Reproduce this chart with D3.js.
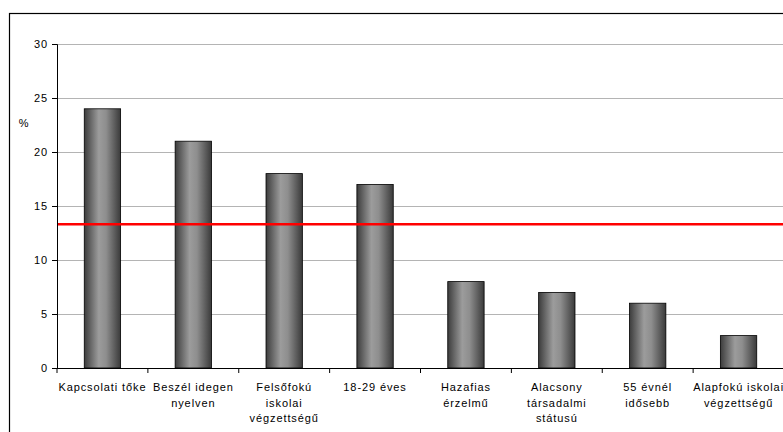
<!DOCTYPE html>
<html>
<head>
<meta charset="utf-8">
<script src="https://cdn.jsdelivr.net/npm/d3@7"></script>
<style>
  body { margin: 0; background: #fff; }
  text { font-family: "Liberation Sans", Arial, sans-serif; fill: #000; letter-spacing: 0.9px; }
</style>
</head>
<body>
<div id="chart"></div>
<script>
// data
var categories = [
  ['Kapcsolati tőke'],
  ['Beszél idegen', 'nyelven'],
  ['Felsőfokú', 'iskolai', 'végzettségű'],
  ['18-29 éves'],
  ['Hazafias', 'érzelmű'],
  ['Alacsony', 'társadalmi', 'státusú'],
  ['55 évnél', 'idősebb'],
  ['Alapfokú iskolai', 'végzettségű']
];
var values = [24, 21, 18, 17, 8, 7, 6, 3];
var average = [13.3];
var yTicks = [0, 5, 10, 15, 20, 25, 30];

var W = 783, H = 432;
var margin = {top: 44, right: -1, bottom: 64, left: 57};
var width = W - margin.left - margin.right,
    height = H - margin.top - margin.bottom;

var svg = d3.select('#chart').append('svg')
    .attr('width', W)
    .attr('height', H);

// chart frame (right and bottom edges run off the picture)
svg.append('rect')
    .attr('x', 9.5).attr('y', 13.5)
    .attr('width', W + 10).attr('height', H + 10)
    .attr('fill', 'none').attr('stroke', '#000').attr('stroke-width', 1.2);

var defs = svg.append('defs');
var grad = defs.append('linearGradient')
    .attr('id', 'barGrad')
    .attr('x1', '0%').attr('x2', '100%').attr('y1', '0%').attr('y2', '0%');
grad.append('stop').attr('offset', '0%').attr('stop-color', '#3c3c3c');
grad.append('stop').attr('offset', '40%').attr('stop-color', '#9c9c9c');
grad.append('stop').attr('offset', '60%').attr('stop-color', '#8e8e8e');
grad.append('stop').attr('offset', '100%').attr('stop-color', '#3a3a3a');

var g = svg.append('g')
    .attr('transform', 'translate(' + margin.left + ',' + margin.top + ')');

var x = d3.scaleBand()
    .domain(d3.range(categories.length))
    .range([0, width]);
var y = d3.scaleLinear()
    .domain([0, 30])
    .range([height, 0]);

// gridlines
g.selectAll('.grid')
    .data(yTicks.filter(function(d){ return d > 0; }))
    .enter().append('line')
    .attr('x1', 0).attr('x2', width)
    .attr('y1', function(d){ return y(d) + 0.5; })
    .attr('y2', function(d){ return y(d) + 0.5; })
    .attr('stroke', '#b4b4b4').attr('stroke-width', 1);

// bars
var barW = x.bandwidth() * 0.4;
g.selectAll('.bar')
    .data(values)
    .enter().append('rect')
    .attr('class', 'bar')
    .attr('x', function(d, i){ return x(i) + (x.bandwidth() - barW) / 2; })
    .attr('width', barW)
    .attr('y', function(d){ return y(d); })
    .attr('height', function(d){ return height - y(d); })
    .attr('fill', 'url(#barGrad)')
    .attr('stroke', '#000').attr('stroke-width', 0.8);

// average line
g.selectAll('.avg')
    .data(average)
    .enter().append('line')
    .attr('x1', 1).attr('x2', width)
    .attr('y1', function(d){ return y(d); })
    .attr('y2', function(d){ return y(d); })
    .attr('stroke', '#ff0000').attr('stroke-width', 2.5);

// y axis
var yAxis = d3.axisLeft(y).tickValues(yTicks).tickSize(5).tickPadding(4);
var ya = g.append('g').call(yAxis);
ya.select('.domain').attr('stroke', '#000');
ya.selectAll('.tick line').attr('stroke', '#000');
ya.selectAll('text')
    .style('font-family', '"Liberation Sans", Arial, sans-serif')
    .style('font-size', '11px')
    .style('fill', '#000');

// x axis
var xa = g.append('g').attr('transform', 'translate(0,' + height + ')');
xa.append('line')
    .attr('x1', 0).attr('x2', width).attr('y1', 0.5).attr('y2', 0.5)
    .attr('stroke', '#000');
xa.selectAll('.xtick')
    .data(d3.range(categories.length + 1))
    .enter().append('line')
    .attr('x1', function(d){ return d * x.bandwidth(); })
    .attr('x2', function(d){ return d * x.bandwidth(); })
    .attr('y1', 0).attr('y2', 5)
    .attr('stroke', '#000');

var labels = xa.selectAll('.xlabel')
    .data(categories)
    .enter().append('text')
    .attr('text-anchor', 'middle')
    .attr('transform', function(d, i){
        return 'translate(' + (x(i) + x.bandwidth() / 2) + ',23)';
    })
    .style('font-size', '11px');
labels.selectAll('tspan')
    .data(function(d){ return d; })
    .enter().append('tspan')
    .attr('x', 0)
    .attr('dy', function(d, i){ return i === 0 ? 0 : 15.7; })
    .text(function(d){ return d; });

// y label
svg.append('text')
    .attr('x', 24).attr('y', 127)
    .attr('text-anchor', 'middle')
    .style('font-size', '11px')
    .style('fill', '#000')
    .text('%');
</script>
</body>
</html>
